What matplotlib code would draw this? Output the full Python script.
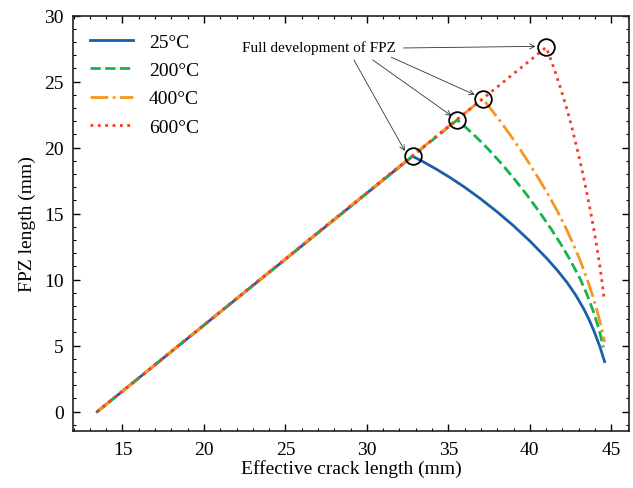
import matplotlib
matplotlib.use('Agg')
import matplotlib.pyplot as plt
from matplotlib.ticker import MultipleLocator

plt.rcParams['font.family'] = ['Liberation Serif', 'DejaVu Serif']

# effective crack length (mm) vs FPZ length (mm)
x25 = [13.45, 32.8, 33.5, 34.3, 35.1, 36.0, 36.95, 38.0, 39.0, 40.0, 41.05, 41.7,
       42.3, 42.8, 43.3, 43.65, 43.95, 44.3, 44.59]
y25 = [0.0, 19.35, 18.9, 18.34, 17.74, 17.0, 16.15, 15.13, 14.08, 12.93, 11.6, 10.69,
       9.76, 8.86, 7.81, 6.94, 6.07, 4.92, 3.79]

x200 = [13.45, 35.55, 36.0, 36.5, 37.0, 37.5, 38.2, 39.0, 39.8, 40.65, 41.3, 41.9,
        42.5, 43.1, 43.5, 43.95, 44.25, 44.52]
y200 = [0.0, 22.1, 21.61, 21.05, 20.45, 19.82, 18.87, 17.7, 16.45, 15.02, 13.85, 12.7,
        11.44, 10.03, 8.9, 7.42, 6.22, 4.87]

x400 = [13.45, 37.1, 37.5, 38.2, 38.8, 39.4, 40.0, 40.65, 41.2, 41.7, 42.2, 42.7,
        43.1, 43.5, 43.85, 44.15, 44.4, 44.59]
y400 = [0.0, 23.7, 23.1, 21.98, 20.96, 19.88, 18.74, 17.44, 16.29, 15.17, 13.95, 12.6,
        11.42, 10.1, 8.8, 7.54, 6.34, 5.28]

x600 = [13.45, 41.0, 41.25, 41.55, 41.9, 42.3, 42.6, 42.9, 43.2, 43.5, 43.8, 44.05,
        44.3, 44.45, 44.55]
y600 = [0.0, 27.6, 26.8, 25.77, 24.46, 22.82, 21.44, 19.94, 18.32, 16.58, 14.69, 12.97,
        11.02, 9.67, 8.62]

labels = ['25°C', '200°C', '400°C', '600°C']
colors = ['#1b5faa', '#16b24a', '#f7961e', '#f53a26']
styles = ['-', '--', '-.', ':']

# peak points (full development of FPZ)
peak_x = [32.8, 35.55, 37.1, 41.0]
peak_y = [19.35, 22.1, 23.7, 27.6]

fig = plt.figure(figsize=(6.33, 4.89), dpi=100)
ax = fig.add_axes([0.115, 0.117, 0.879, 0.849])

for xs, ys, lab, c, ls in zip([x25, x200, x400, x600], [y25, y200, y400, y600],
                              labels, colors, styles):
    ax.plot(xs, ys, ls=ls, color=c, lw=2, label=lab)

ax.plot(peak_x, peak_y, 'o', ms=12, mfc='none', mec='black', mew=1.3, zorder=5)

# annotation text + arrows
ax.text(22.35, 27.6, 'Full development of FPZ', fontsize=11, va='center', ha='left')
starts = [(29.2, 26.65), (30.35, 26.65), (31.5, 26.85), (32.25, 27.55)]
ends = [(32.33, 19.75), (35.2, 22.4), (36.62, 24.0), (40.35, 27.67)]
for s, e in zip(starts, ends):
    ax.annotate('', xy=e, xytext=s,
                arrowprops=dict(arrowstyle='->', lw=0.6, color='#333333',
                                shrinkA=0, shrinkB=0, mutation_scale=9))

ax.set_xlim(11.95, 46.1)
ax.set_ylim(-1.45, 30)
ax.xaxis.set_major_locator(MultipleLocator(5))
ax.xaxis.set_minor_locator(MultipleLocator(1))
ax.yaxis.set_major_locator(MultipleLocator(5))
ax.yaxis.set_minor_locator(MultipleLocator(1))
ax.tick_params(which='both', direction='in', top=True, right=True, labelsize=14)
ax.tick_params(which='major', length=5, width=1)
ax.tick_params(which='minor', length=2.5, width=0.8)
ax.tick_params(axis='x', which='major', pad=7)
ax.tick_params(axis='y', which='major', pad=6.5)
for sp in ax.spines.values():
    sp.set_linewidth(1.2)
    sp.set_color('#222222')

ax.set_xlabel('Effective crack length (mm)', fontsize=14, labelpad=1)
ax.set_ylabel('FPZ length (mm)', fontsize=14, labelpad=6)
ax.legend(loc='upper left', frameon=False, fontsize=14, handlelength=2.2,
          labelspacing=0.55, borderaxespad=0.5)

plt.savefig('out.png', dpi=100)
